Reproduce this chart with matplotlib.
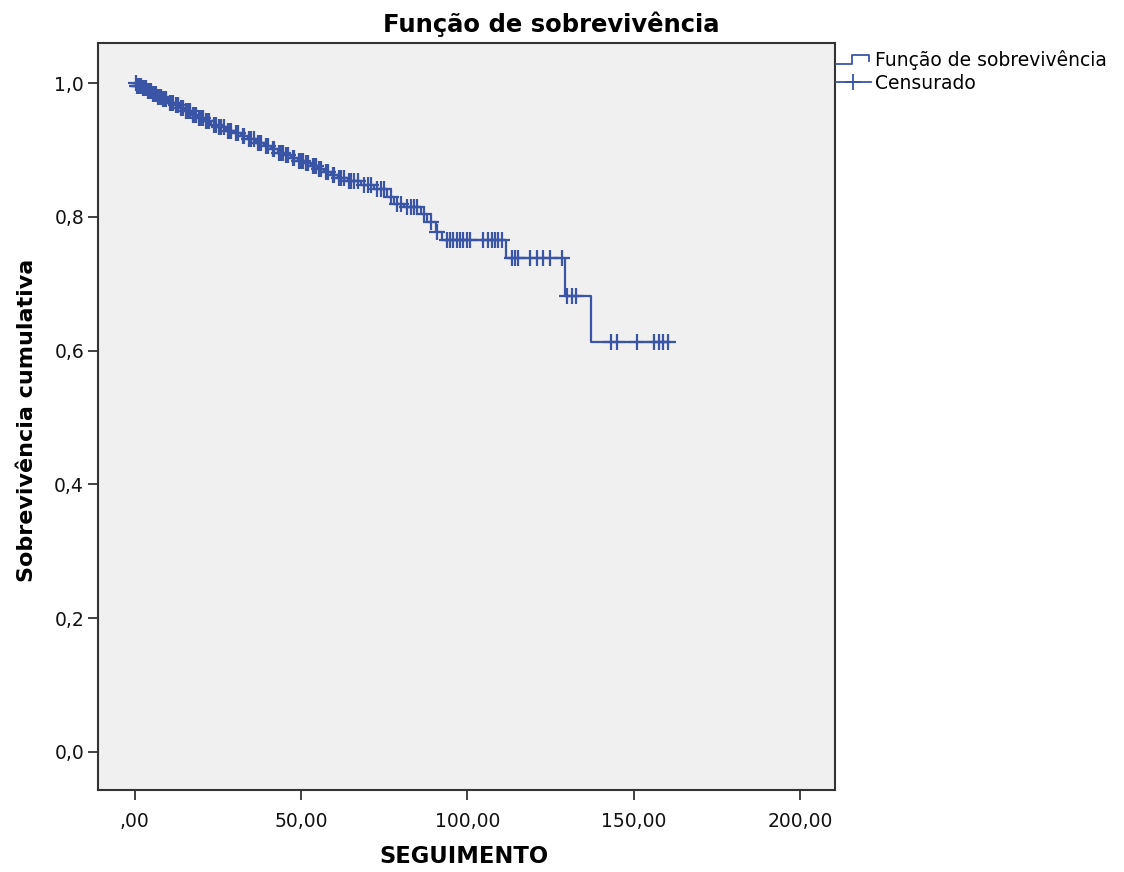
import numpy as np
import matplotlib
matplotlib.use("Agg")
import matplotlib.pyplot as plt
from matplotlib.lines import Line2D
from matplotlib.legend_handler import HandlerBase

# ---- data ----
event_times = [0.5, 2, 3.5, 5, 6.5, 8, 10, 12, 13.5, 15, 17, 19, 21, 23, 25, 27.5,
               30, 32, 34, 36.5, 39, 41, 43, 45, 47, 49, 51, 53, 55, 57, 59, 61,
               64, 68, 72, 76, 78, 81, 86, 88, 90.5, 92.3, 111.7, 129.4, 137.1]
survival = [0.996, 0.992, 0.988, 0.984, 0.980, 0.976, 0.971, 0.967, 0.963, 0.958,
            0.953, 0.948, 0.943, 0.938, 0.934, 0.929, 0.925, 0.921, 0.916, 0.911,
            0.906, 0.901, 0.896, 0.892, 0.888, 0.884, 0.880, 0.876, 0.872, 0.867,
            0.862, 0.858, 0.854, 0.848, 0.842, 0.830, 0.820, 0.815, 0.805, 0.792,
            0.778, 0.765, 0.739, 0.682, 0.613]
censor_times = [0.3, 0.8, 1, 1.3, 1.5, 1.8, 2.5, 3, 3.3, 4, 4.5, 4.8, 5.5, 6, 6.3, 7,
                7.5, 7.8, 8.5, 9, 9.5, 10.5, 11, 11.5, 12.5, 13, 14, 14.5, 15.5, 16,
                16.5, 17.5, 18, 18.5, 19.5, 20, 20.5, 21.5, 22, 22.5, 24, 24.5, 25.5,
                26, 27, 28, 28.5, 29, 30.5, 31, 32.5, 33, 34.5, 35, 36, 37, 37.5, 38,
                39.5, 40, 41.5, 42, 43.5, 44, 44.5, 45.5, 46, 47.5, 48, 49.5, 50,
                50.5, 51.5, 52, 53.5, 54, 54.5, 55.5, 56, 57.5, 58, 59.5, 60, 61.5,
                62, 63, 64.5, 65, 66, 67, 69, 70, 71, 73, 74, 75, 77, 79, 80, 82, 83,
                84, 85, 87, 89, 91, 93.8, 94.8, 95.8, 96.8, 97.8, 98.8, 99.8, 100.8,
                104.6, 106.3, 107.3, 108.3, 109.3, 110.4, 113.4, 114.4, 115.3, 118.9,
                120.9, 122.7, 124.7, 128.4, 130.0, 131.5, 132.7, 143.1, 145.1, 151.0,
                156.2, 157.7, 158.7, 160.3]
x_ticks = [0, 50, 100, 150, 200]
x_tick_labels = [",00", "50,00", "100,00", "150,00", "200,00"]
y_ticks = [0.0, 0.2, 0.4, 0.6, 0.8, 1.0]
y_tick_labels = ["0,0", "0,2", "0,4", "0,6", "0,8", "1,0"]

title = "Função de sobrevivência"
xlabel = "SEGUIMENTO"
ylabel = "Sobrevivência cumulativa"
legend_labels = ["Função de sobrevivência", "Censurado"]

# ---- style ----
LINE = "#3a55a6"

fig = plt.figure(figsize=(11.24, 8.72), dpi=100)
ax = fig.add_axes([98 / 1124, 1 - 790 / 872, (835 - 98) / 1124, (790 - 43) / 872])
ax.set_facecolor("#f0f0f0")

t_all = np.concatenate([[0.0], event_times, [max(censor_times)]])
s_all = np.concatenate([[1.0], survival, [survival[-1]]])
ax.step(t_all, s_all, where="post", color=LINE, lw=1.6, zorder=3)

ct = np.array(censor_times)
idx = np.searchsorted(np.array(event_times), ct, side="right")
cs = np.concatenate([[1.0], survival])[idx]
ax.plot(ct, cs, linestyle="none", marker="+", markersize=11, mew=1.6,
        color=LINE, zorder=4)

ax.set_xlim(-11, 210.5)
ax.set_ylim(-0.057, 1.06)
ax.set_xticks(x_ticks)
ax.set_xticklabels(x_tick_labels)
ax.set_yticks(y_ticks)
ax.set_yticklabels(y_tick_labels)
ax.tick_params(axis="both", direction="out", length=7, width=1.3, colors="#333333",
               labelcolor="#111111", labelsize=13.5)
ax.tick_params(axis="x", pad=9)
ax.tick_params(axis="y", pad=3)
for sp in ax.spines.values():
    sp.set_color("#333333")
    sp.set_linewidth(1.5)

fig.text(551 / 1124, 1 - 24 / 872, title, ha="center", va="center",
         fontsize=17.5, fontweight="bold")
fig.text(464 / 1124, 1 - 856 / 872, xlabel, ha="center", va="center",
         fontsize=16.3, fontweight="bold")
fig.text(27 / 1124, 1 - 420 / 872, ylabel, ha="center", va="center", rotation=90,
         fontsize=16, fontweight="bold")


class StepHandler(HandlerBase):
    def create_artists(self, legend, orig_handle, xdescent, ydescent, width, height,
                       fontsize, trans):
        x0 = -xdescent
        y0 = -ydescent
        xs = [x0, x0 + width * 0.45, x0 + width * 0.45, x0 + width * 0.95, x0 + width * 0.95]
        ys = [y0 + height * 0.15, y0 + height * 0.15, y0 + height * 0.85,
              y0 + height * 0.85, y0 + height * 0.35]
        ln = Line2D(xs, ys, color=LINE, lw=1.3, transform=trans)
        return [ln]


h1 = Line2D([], [], color=LINE)
h2 = Line2D([], [], color=LINE, lw=1.3, marker="+", markersize=12, mew=1.3)
leg = fig.legend([h1, h2], legend_labels, loc="upper left",
                 bbox_to_anchor=(836 / 1124, 1 - 50 / 872), frameon=False,
                 fontsize=13.5, handlelength=1.85, handletextpad=0.25, borderpad=0,
                 borderaxespad=0, labelspacing=0.2, markerscale=1,
                 handler_map={h1: StepHandler()})

fig.savefig("out.png", dpi=100)
